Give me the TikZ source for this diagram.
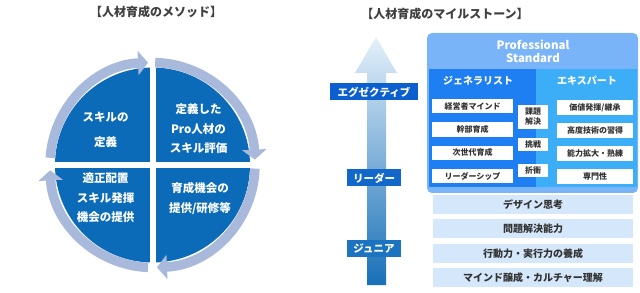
\documentclass[tikz,border=0pt]{standalone}
\usepackage{fontspec}
\setmainfont{Noto Sans CJK JP}
\usetikzlibrary{arrows.meta,positioning}
\definecolor{hrDisk}   {HTML}{0B6BB8}
\definecolor{hrRing}   {HTML}{A9B9DC}
\definecolor{hrTitle}  {HTML}{404040}
\definecolor{hrPro}    {HTML}{7AB4F8}
\definecolor{hrGen}    {HTML}{1E7FF2}
\definecolor{hrExp}    {HTML}{3CAEF8}
\definecolor{hrBar}    {HTML}{D5E8FB}
\definecolor{hrText}   {HTML}{333333}
\definecolor{hrExec}   {HTML}{0B5FCF}
\definecolor{hrLead}   {HTML}{1268C8}
\definecolor{hrJun}    {HTML}{1C74C0}
\definecolor{hrArrTop} {HTML}{E4F0FA}
\definecolor{hrArrBot} {HTML}{1870B8}

\begin{document}
\begin{tikzpicture}[x=1pt,y=1pt,
      title/.style={text=hrTitle,font=\fontsize{12}{14}\selectfont\bfseries},
      quad/.style={text=white,align=center,font=\fontsize{11.5}{19.5}\selectfont\bfseries},
      ring/.style={draw=hrRing,line width=9.5pt,-{Triangle[width=24pt,length=10pt]}},
      level/.style={text=white,inner sep=0pt,minimum height=17pt,
                    font=\fontsize{10.5}{12}\selectfont\bfseries},
      panel/.style={inner sep=0pt,minimum height=118pt},
      skill/.style={fill=white,text=hrText,inner sep=0pt,minimum height=14.5pt,
                    font=\fontsize{8}{10}\selectfont\bfseries},
      trait/.style={fill=white,text=hrText,inner sep=0pt,minimum width=30pt,
                    align=center,font=\fontsize{8}{10}\selectfont\bfseries},
      basebar/.style={fill=hrBar,text=hrText,inner sep=0pt,minimum width=200pt,
                      minimum height=19pt,font=\fontsize{10}{12}\selectfont\bfseries}]
    \useasboundingbox (0,0) rectangle (640,292);

    % method cycle
    \node[title] (methodtitle) at (156,280) {【人材育成のメソッド】};
    \coordinate (C) at (152.5,127);
    \fill[hrDisk] (C) circle[radius=97.5];
    \draw[white,line width=6pt] (C) ++(0,-101) -- ++(0,202);
    \draw[white,line width=6pt] (C) ++(-101,0) -- ++(202,0);
    \draw[ring] (C) ++(176:102.5) arc[start angle=176,end angle=92.5,radius=102.5];
    \draw[ring] (C) ++(88.5:102.5) arc[start angle=88.5,end angle=3,radius=102.5];
    \draw[ring] (C) ++(-2:102.5) arc[start angle=-2,end angle=-87.5,radius=102.5];
    \draw[ring] (C) ++(-92.5:102.5) arc[start angle=-92.5,end angle=-177,radius=102.5];

    \node[quad] (define) at (105.5,162) {スキルの\\[6pt]定義};
    \node[quad] (assess) at (198.5,163) {定義した\\Pro人材の\\スキル評価};
    \node[quad] (train) at (200,93.5) {育成機会の\\提供/研修等};
    \node[quad] (place) at (105.5,94) {適正配置\\スキル発揮\\機会の提供};

    % milestones
    \node[title] (miletitle) at (445,278) {【人材育成のマイルストーン】};
    \shade[top color=hrArrTop,bottom color=hrArrBot]
      (367,7) -- (367,219) -- (355,219) -- (376,255) -- (397,219) -- (386,219) -- (386,7) -- cycle;
    \node[level,fill=hrExec,minimum width=88pt] (exec) at (374,200) {エグゼクティブ};
    \node[level,fill=hrLead,minimum width=54pt] (lead) at (374,114) {リーダー};
    \node[level,fill=hrJun,minimum width=54pt] (junior) at (374,43.5) {ジュニア};

    \node[fill=hrPro,rounded corners=5pt,minimum width=211pt,minimum height=160pt] (pro) at (532.5,179) {};
    \node[text=white,align=center,font=\fontsize{11.5}{13}\selectfont\bfseries] (protitle) at (533,240.5)
      {Professional\\Standard};
    \node[panel,fill=hrGen,minimum width=107pt] (gen) at (482.5,164) {};
    \node[panel,fill=hrExp,minimum width=101pt] (exp) at (586.5,164) {};
    \node[text=white,font=\fontsize{10}{12}\selectfont\bfseries] (genhead) at (478,211) {ジェネラリスト};
    \node[text=white,font=\fontsize{10}{12}\selectfont\bfseries] (exphead) at (587,211) {エキスパート};

    \node[skill,minimum width=81pt] (g1) at (472.5,186) {経営者マインド};
    \node[skill,minimum width=81pt,below=8.5pt of g1] (g2) {幹部育成};
    \node[skill,minimum width=81pt,below=8.5pt of g2] (g3) {次世代育成};
    \node[skill,minimum width=81pt,below=8.5pt of g3] (g4) {リーダーシップ};

    \node[trait,minimum height=24pt] (t1) at (533,175) {課題\\解決};
    \node[trait,minimum height=13pt] (t2) at (533,147.5) {挑戦};
    \node[trait,minimum height=13pt] (t3) at (533,121.5) {折衝};

    \node[skill,minimum width=76pt,minimum height=15pt] (e1) at (595,184) {価値発揮/継承};
    \node[skill,minimum width=76pt,minimum height=15pt,below=7.5pt of e1] (e2) {高度技術の習得};
    \node[skill,minimum width=76pt,minimum height=15pt,below=7.5pt of e2] (e3) {能力拡大・熟練};
    \node[skill,minimum width=76pt,minimum height=15pt,below=7.5pt of e3] (e4) {専門性};

    \node[basebar] (b1) at (533,87.5) {デザイン思考};
    \node[basebar,below=5pt of b1] (b2) {問題解決能力};
    \node[basebar,below=5pt of b2] (b3) {行動力・実行力の養成};
    \node[basebar,below=5pt of b3] (b4) {マインド醸成・カルチャー理解};
  \end{tikzpicture}
\end{document}
